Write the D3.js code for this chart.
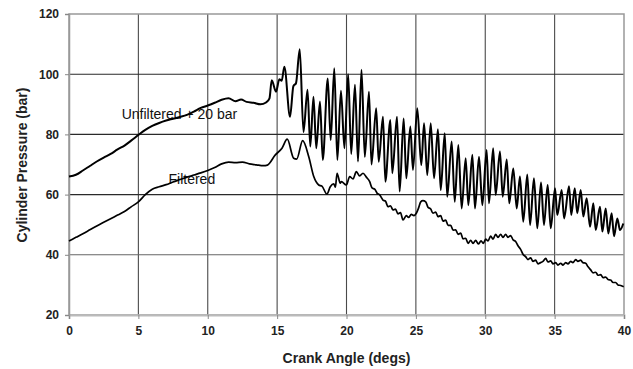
<!DOCTYPE html>
<html>
<head>
<meta charset="utf-8">
<script src="https://cdn.jsdelivr.net/npm/d3@7"></script>
<style>
    body { margin: 0; background: #fff; }
    text { font-family: "Liberation Sans", Arial, sans-serif; }
</style>
</head>
<body>
<div id="chart"></div>
<script>
// tick values
const xTicks = [0, 5, 10, 15, 20, 25, 30, 35, 40];
const yTicks = [20, 40, 60, 80, 100, 120];

// crank angle (degs), pressure (bar) -- unfiltered trace shifted by +20 bar
const unfiltered = [
    [0, 66.0], [0.5, 66.6], [1.0, 68.0], [1.5, 69.5], [2.0, 71.0], [2.5, 72.3],
    [3.0, 73.5], [3.5, 75.0], [4.0, 76.3], [4.5, 78.0], [5.0, 79.8], [5.5, 81.5],
    [6.0, 82.8], [6.5, 83.8], [7.0, 84.6], [7.5, 85.2], [8.0, 85.8], [8.5, 86.5],
    [9.0, 87.6], [9.5, 88.8], [10.0, 89.6], [10.5, 90.5], [11.0, 91.5], [11.5, 92.0],
    [12.0, 91.0], [12.4, 91.6], [12.8, 90.8], [13.3, 90.5], [13.8, 90.0], [14.2, 90.6],
    [14.45, 92.0], [14.61, 98.0], [14.92, 94.2], [15.16, 98.3], [15.33, 97.8], [15.52, 102.5],
    [15.93, 85.9], [16.17, 96.0], [16.36, 97.0], [16.63, 108.3], [16.90, 80.8], [17.19, 94.8],
    [17.39, 76.0], [17.62, 92.5], [17.82, 75.4], [18.09, 90.9], [18.29, 71.5], [18.65, 98.6],
    [18.86, 78.1], [19.12, 102.0], [19.34, 71.5], [19.60, 94.5], [19.85, 75.4], [20.12, 100.0],
    [20.34, 73.5], [20.61, 96.5], [20.83, 71.0], [21.08, 101.5], [21.32, 72.5], [21.62, 94.2],
    [21.80, 70.0], [22.14, 88.7], [22.32, 70.9], [22.63, 85.9], [22.80, 64.3], [23.16, 84.8],
    [23.30, 67.1], [23.64, 85.9], [23.83, 61.0], [24.12, 85.3], [24.31, 65.4], [24.60, 82.6],
    [24.79, 68.2], [25.10, 88.7], [25.39, 69.8], [25.59, 83.7], [25.82, 66.5], [26.07, 83.7],
    [26.31, 65.4], [26.59, 81.7], [26.79, 61.5], [27.08, 80.4], [27.26, 59.3], [27.58, 77.6],
    [27.80, 57.6], [28.06, 76.5], [28.30, 55.4], [28.59, 72.1], [28.78, 56.5], [29.07, 73.2],
    [29.26, 55.4], [29.55, 72.6], [29.79, 56.5], [30.10, 74.8], [30.27, 57.1], [30.57, 75.4],
    [30.75, 59.9], [31.06, 74.3], [31.26, 59.3], [31.55, 71.7], [31.73, 57.1], [32.02, 68.7],
    [32.27, 55.4], [32.50, 66.0], [32.74, 51.0], [33.03, 66.7], [33.23, 49.9], [33.51, 65.4],
    [33.75, 48.8], [34.02, 64.0], [34.23, 49.9], [34.50, 63.2], [34.72, 48.8], [35.03, 62.1],
    [35.19, 53.2], [35.51, 61.5], [35.68, 52.1], [36.04, 62.8], [36.20, 53.2], [36.45, 62.1],
    [36.63, 53.8], [36.88, 61.5], [37.07, 52.7], [37.31, 58.8], [37.55, 49.3], [37.79, 57.1],
    [37.96, 48.2], [38.27, 56.0], [38.44, 47.7], [38.68, 55.4], [38.87, 47.1], [39.11, 53.8],
    [39.28, 46.2], [39.52, 52.1], [39.71, 48.2], [39.95, 50.4]
];

const filtered = [
    [0, 44.6], [0.5, 45.8], [1.0, 47.0], [1.5, 48.3], [2.0, 49.6], [2.5, 50.8],
    [3.0, 52.0], [3.5, 53.2], [4.0, 54.4], [4.5, 56.0], [5.0, 57.6], [5.5, 60.0],
    [6.0, 61.8], [6.5, 62.6], [7.0, 63.3], [7.5, 64.2], [8.0, 65.0], [8.5, 65.8],
    [9.0, 66.5], [9.5, 67.2], [10.0, 68.0], [10.5, 69.0], [11.0, 70.2], [11.5, 70.8],
    [12.0, 70.6], [12.5, 70.8], [13.0, 70.2], [13.5, 69.9], [14.0, 69.6], [14.3, 69.8],
    [14.87, 73.2], [15.35, 75.4], [15.73, 78.4], [16.19, 72.1], [16.41, 71.8], [16.84, 77.9],
    [17.28, 72.6], [17.64, 66.0], [18.0, 63.2], [18.23, 62.8], [18.59, 60.2], [18.83, 62.6],
    [19.08, 63.6], [19.2, 62.5], [19.32, 67.1], [19.55, 63.8], [19.63, 64.3], [19.99, 63.2],
    [20.23, 66.0], [20.47, 65.2], [20.71, 67.6], [20.95, 66.2], [21.19, 67.1], [21.43, 65.8],
    [21.67, 64.3], [21.84, 62.2], [22.03, 61.8], [22.2, 60.5], [22.39, 59.9], [22.63, 58.2],
    [22.81, 57.8], [22.99, 56.0], [23.17, 56.3], [23.35, 54.9], [23.53, 55.2], [23.71, 53.6],
    [23.89, 54.0], [24.07, 51.6], [24.31, 53.0], [24.47, 52.4], [24.67, 53.4], [24.86, 53.0],
    [25.03, 53.8], [25.19, 55.5], [25.35, 57.6], [25.51, 58.0], [25.71, 57.6], [25.87, 55.8],
    [26.07, 55.2], [26.23, 53.8], [26.43, 54.2], [26.59, 52.7], [26.79, 53.0], [26.95, 51.2],
    [27.15, 51.5], [27.32, 49.8], [27.51, 49.8], [27.68, 48.2], [27.87, 48.3], [28.04, 46.8],
    [28.23, 47.2], [28.40, 45.3], [28.59, 45.5], [28.76, 43.8], [28.95, 44.8], [29.12, 43.8],
    [29.31, 44.8], [29.5, 43.6], [29.70, 44.6], [29.86, 43.8], [30.03, 45.2], [30.20, 44.6],
    [30.39, 46.2], [30.56, 45.2], [30.75, 46.8], [30.92, 45.8], [31.11, 46.8], [31.28, 45.8],
    [31.47, 46.8], [31.64, 45.8], [31.83, 46.4], [32.0, 45.0], [32.19, 44.4], [32.36, 43.0],
    [32.55, 41.8], [32.72, 40.2], [32.91, 39.4], [33.08, 38.4], [33.27, 39.0], [33.44, 37.8],
    [33.63, 38.2], [33.80, 37.0], [33.99, 37.4], [34.16, 37.8], [34.36, 38.8], [34.52, 37.6],
    [34.72, 38.0], [34.88, 37.0], [35.08, 37.4], [35.24, 36.6], [35.44, 37.2], [35.60, 36.6],
    [35.80, 37.4], [35.96, 37.0], [36.16, 37.8], [36.32, 37.4], [36.52, 38.4], [36.68, 37.8],
    [36.88, 38.2], [37.04, 37.4], [37.24, 37.2], [37.41, 36.0], [37.60, 35.0], [37.77, 34.0],
    [37.96, 34.2], [38.13, 33.2], [38.32, 33.4], [38.49, 32.4], [38.68, 32.6], [38.85, 31.8],
    [39.04, 31.6], [39.21, 30.8], [39.40, 30.8], [39.57, 30.0], [39.76, 29.8], [39.98, 29.4]
];

const width = 633, height = 369;
const plot = { left: 69, right: 624, top: 14, bottom: 315 };

const svg = d3.select("#chart")
    .append("svg")
    .attr("width", width)
    .attr("height", height);

svg.append("rect")
    .attr("width", width)
    .attr("height", height)
    .attr("fill", "#fff");

const x = d3.scaleLinear().domain([0, 40]).range([plot.left, plot.right]);
const y = d3.scaleLinear().domain([20, 120]).range([plot.bottom, plot.top]);

// grid lines
svg.append("g")
    .selectAll("line")
    .data(xTicks.slice(1, -1))
    .join("line")
    .attr("x1", d => x(d)).attr("x2", d => x(d))
    .attr("y1", plot.top).attr("y2", plot.bottom)
    .attr("stroke", "#4a4a4a")
    .attr("stroke-width", 1.1);

svg.append("g")
    .selectAll("line")
    .data(yTicks.slice(1, -1))
    .join("line")
    .attr("x1", plot.left).attr("x2", plot.right)
    .attr("y1", d => y(d)).attr("y2", d => y(d))
    .attr("stroke", d => d >= 60 ? "#2a2a2a" : "#666")
    .attr("stroke-width", 1.1);

// frame
svg.append("rect")
    .attr("x", plot.left).attr("y", plot.top)
    .attr("width", plot.right - plot.left)
    .attr("height", plot.bottom - plot.top)
    .attr("fill", "none")
    .attr("stroke", "#999")
    .attr("stroke-width", 1.5);

// axes
const xAxis = svg.append("g")
    .attr("transform", `translate(0,${plot.bottom})`)
    .call(d3.axisBottom(x).tickValues(xTicks).tickSize(4).tickPadding(7));

const yAxis = svg.append("g")
    .attr("transform", `translate(${plot.left},0)`)
    .call(d3.axisLeft(y).tickValues(yTicks).tickSize(4).tickPadding(6));

[xAxis, yAxis].forEach(g => {
    g.select(".domain").attr("stroke", "#bbb").attr("stroke-width", 2);
    g.selectAll(".tick line").attr("stroke", "#888");
    g.selectAll(".tick text")
        .attr("font-size", 12)
        .attr("font-weight", "bold")
        .attr("fill", "#222")
        .style("font-family", "'Liberation Sans', Arial, sans-serif");
});
yAxis.select(".domain").attr("stroke", "#999").attr("stroke-width", 1.5);

// series labels
svg.append("text")
    .attr("x", 121.7).attr("y", 119)
    .attr("font-size", 14)
    .attr("fill", "#111")
    .text("Unfiltered + 20 bar");

svg.append("text")
    .attr("x", 168.5).attr("y", 184)
    .attr("font-size", 14)
    .attr("fill", "#111")
    .text("Filtered");

// traces
const line = d3.line()
    .x(d => x(d[0]))
    .y(d => y(d[1]))
    .curve(d3.curveMonotoneX);

svg.append("path")
    .datum(unfiltered)
    .attr("d", line)
    .attr("fill", "none")
    .attr("stroke", "#000")
    .attr("stroke-width", 2)
    .attr("stroke-linejoin", "round");

svg.append("path")
    .datum(filtered)
    .attr("d", line)
    .attr("fill", "none")
    .attr("stroke", "#000")
    .attr("stroke-width", 1.7)
    .attr("stroke-linejoin", "round");

// axis titles
svg.append("text")
    .attr("x", (plot.left + plot.right) / 2)
    .attr("y", 363)
    .attr("text-anchor", "middle")
    .attr("font-size", 14)
    .attr("font-weight", "bold")
    .attr("fill", "#222")
    .text("Crank Angle (degs)");

svg.append("text")
    .attr("transform", "translate(27,165) rotate(-90)")
    .attr("text-anchor", "middle")
    .attr("font-size", 14)
    .attr("font-weight", "bold")
    .attr("fill", "#222")
    .text("Cylinder Pressure (bar)");
</script>
</body>
</html>
